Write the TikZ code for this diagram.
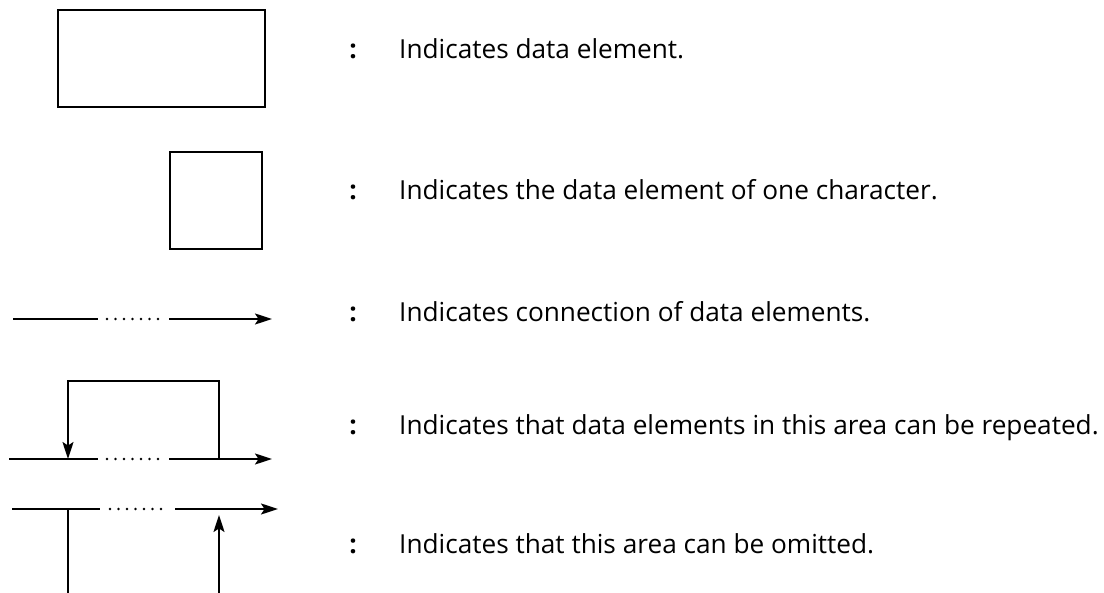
\documentclass[tikz,border=0pt]{standalone}
\usepackage{fontspec}
\setmainfont{Open Sans}
\usetikzlibrary{arrows.meta}
\begin{document}
\begin{tikzpicture}[x=1pt,y=-1pt,
  ln/.style={line width=1.8pt},
  dotline/.style={line width=2.8pt, line cap=round, dash pattern=on 0pt off 8.5pt},
  arr/.style={ln, -{Stealth[length=17pt,width=11pt,inset=3.5pt]}},
  box/.style={draw, ln, inner sep=0pt, outer sep=0pt},
  lbl/.style={anchor=base west, inner sep=0pt, font=\fontsize{26.2}{30}\selectfont},
  colon/.style={anchor=base, inner sep=0pt, font=\fontsize{26.2}{30}\selectfont\bfseries}]
\useasboundingbox (0,0) rectangle (1104,593);
% symbols
\node[box, minimum width=207pt, minimum height=97pt] (rect) at (161.5,58.5) {};
\node[box, minimum width=92pt, minimum height=97pt] (sq) at (216,200.5) {};
% connection
\coordinate (c1) at (13,319); \coordinate (c2) at (98,319);
\coordinate (c3) at (107,319); \coordinate (c4) at (158.5,319);
\coordinate (c5) at (169,319); \coordinate (c6) at (272,319);
\draw[ln] (c1) -- (c2);
\draw[dotline] (c3) -- (c4);
\draw[arr] (c5) -- (c6);
% repetition
\coordinate (r1) at (9,459); \coordinate (r2) at (98,459);
\coordinate (r3) at (107,459); \coordinate (r4) at (158.5,459);
\coordinate (r5) at (169,459); \coordinate (r6) at (272,459);
\coordinate (rl) at (68,459); \coordinate (rr) at (219,459);
\coordinate (rtl) at (68,381); \coordinate (rtr) at (219,381);
\draw[ln] (r1) -- (r2);
\draw[dotline] (r3) -- (r4);
\draw[arr] (r5) -- (r6);
\draw[arr] (rr) -- (rtr) -- (rtl) -- (rl);
% omission
\coordinate (o1) at (12,509); \coordinate (o2) at (100,509);
\coordinate (o3) at (110,509); \coordinate (o4) at (161.5,509);
\coordinate (o5) at (175,509); \coordinate (o6) at (278,509);
\coordinate (ol) at (68,509); \coordinate (olb) at (68,593);
\coordinate (orb) at (219,593); \coordinate (ort) at (219,515);
\draw[ln] (o1) -- (o2);
\draw[dotline] (o3) -- (o4);
\draw[arr] (o5) -- (o6);
\draw[ln] (ol) -- (olb);
\draw[arr] (orb) -- (ort);
% texts
\node[colon] (k1) at (353,59) {:};
\node[lbl] (t1) at (399,59) {Indicates data element.};
\node[colon] (k2) at (353,200) {:};
\node[lbl] (t2) at (399,200) {Indicates the data element of one character.};
\node[colon] (k3) at (353,322) {:};
\node[lbl] (t3) at (399,322) {Indicates connection of data elements.};
\node[colon] (k4) at (353,435) {:};
\node[lbl] (t4) at (399,435) {Indicates that data elements in this area can be repeated.};
\node[colon] (k5) at (353,554) {:};
\node[lbl] (t5) at (399,554) {Indicates that this area can be omitted.};
\end{tikzpicture}
\end{document}
